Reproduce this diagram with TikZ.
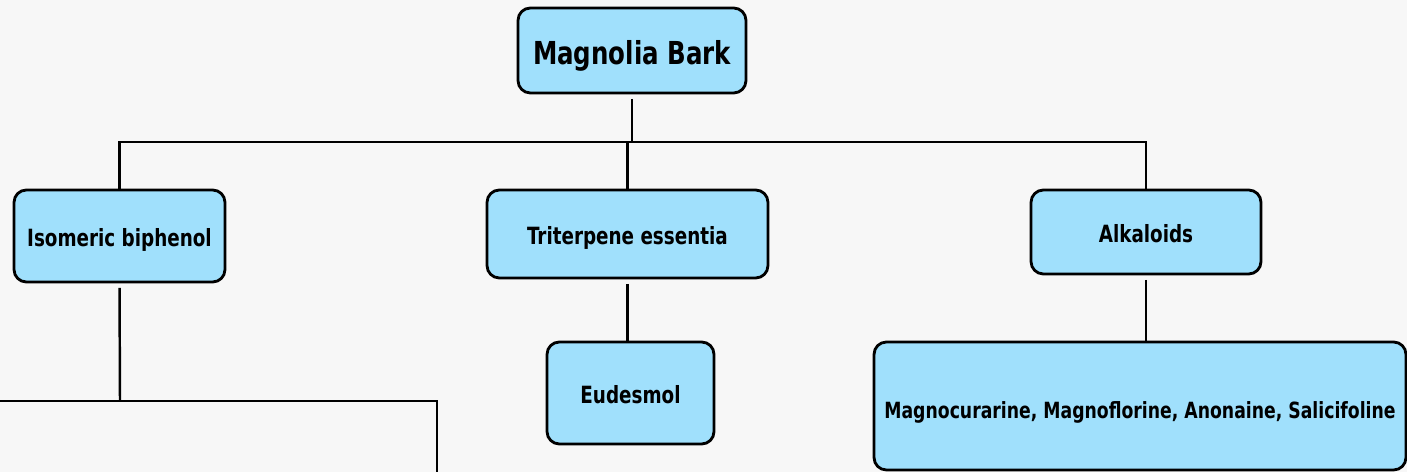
\documentclass[tikz,border=0pt]{standalone}
\usepackage{fontspec}
\setmainfont[FakeStretch=0.86]{DejaVu Sans Condensed}
\definecolor{boxBlue}{HTML}{A0E0FC}
\definecolor{paperGrey}{HTML}{F7F7F7}
\usetikzlibrary{positioning}
\begin{document}
\begin{tikzpicture}[
    x=0.02cm, y=-0.02cm,
    box/.style={rectangle, draw=black, fill=boxBlue, rounded corners=7pt, line width=1.6pt,
                align=center, inner sep=0pt, text height=12pt, text depth=0pt,
                font=\bfseries\fontsize{13.5}{16}\selectfont},
    link/.style={line width=1.4pt, black},
    drop/.style={link, shorten <=2.5pt}
  ]
    % page
    \fill[paperGrey] (0,0) rectangle (1407,472);
    \useasboundingbox (0,0) rectangle (1407,472);
    \clip (0,0) rectangle (1407,472);

    % boxes
    \node[box, minimum width=4.56cm, minimum height=1.70cm, text height=16.5pt, font=\bfseries\fontsize{18}{21}\selectfont] (bark) at (632,50.5) {Magnolia Bark};
    \node[box, minimum width=4.22cm, minimum height=1.84cm] (biphenol) at (119.5,236) {Isomeric biphenol};
    \node[box, minimum width=5.62cm, minimum height=1.76cm] (triterpene) at (627.5,234) {Triterpene essentia};
    \node[box, minimum width=4.60cm, minimum height=1.68cm] (alkaloids) at (1146,232) {Alkaloids};
    \node[box, minimum width=3.34cm, minimum height=2.04cm] (eudesmol) at (630.5,393) {Eudesmol};
    \node[box, minimum width=10.64cm, minimum height=2.56cm, text height=13.8pt, font=\bfseries\fontsize{12.7}{15}\selectfont] (alkalist) at (1140,406) {Magnocurarine, Magnoflorine, Anonaine, Salicifoline};

    % connectors
    \coordinate (busTop) at (632,142);
    \coordinate (busLow) at (120,401);
    \coordinate (offLeft) at (-30,401);
    \coordinate (offDown) at (437,520);
    \draw[drop] (bark.south) -- (busTop);
    \draw[link] (biphenol.north) |- (busTop) -| (alkaloids.north);
    \draw[link] (triterpene.north) -- (triterpene.north |- busTop);
    \draw[drop] (biphenol.south) -- (busLow);
    \draw[link] (offLeft) -- (busLow) -| (offDown);
    \draw[drop] (triterpene.south) -- (triterpene.south |- eudesmol.north);
    \draw[drop] (alkaloids.south) -- (alkaloids.south |- alkalist.north);
\end{tikzpicture}
\end{document}
